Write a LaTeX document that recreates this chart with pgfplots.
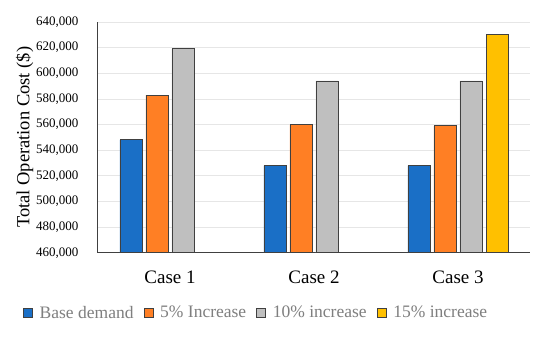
\documentclass[border=0pt]{standalone}
\usepackage{pgfplots}
\pgfplotsset{compat=1.18}
\usepackage{fontspec}
\setmainfont{Liberation Serif}
\definecolor{cblue}{HTML}{1A6FC6}
\definecolor{corange}{HTML}{FF7F24}
\definecolor{cgray}{HTML}{BFBFBF}
\definecolor{cyellow}{HTML}{FFC000}
\definecolor{edge}{HTML}{404040}
\definecolor{gridc}{HTML}{E6E6E6}
\definecolor{legtext}{HTML}{7F7F7F}
\begin{document}
\begin{tikzpicture}[x=1pt,y=1pt]
\path[use as bounding box] (0,0) rectangle (550,341);
\begin{axis}[
  at={(98pt,88.3pt)}, anchor=south west,
  scale only axis, width=432pt, height=230.7pt,
  xmin=-0.5, xmax=2.5, ymin=460000, ymax=640000,
  ytick distance=20000,
  xtick={0,1,2}, xticklabels={Case 1,Case 2,Case 3},
  major tick length=0pt,
  ybar=4pt, bar width=22pt,
  axis line style={draw=none},
  axis x line*=bottom, axis y line*=left,
  ymajorgrids, grid style={gridc, line width=0.8pt},
  scaled y ticks=false,
  /pgf/number format/assume math mode=true,
  yticklabel={\pgfmathprintnumber[fixed,1000 sep={,}]{\tick}},
  yticklabel style={font=\fontsize{13}{15}\selectfont, xshift=-16pt},
  xticklabel style={font=\fontsize{19}{22}\selectfont, yshift=-15pt},
  ylabel={Total Operation Cost (\$)},
  ylabel style={font=\fontsize{18.5}{21}\selectfont, yshift=-4pt},
  every axis plot/.append style={draw=edge, line width=0.9pt},
  legend columns=4,
  legend style={draw=none, at={(0.366,-0.26)}, anchor=center,
    font=\fontsize{17.5}{20}\selectfont, text=legtext,
    /tikz/every odd column/.append style={column sep=5pt},
    /tikz/every even column/.append style={column sep=8pt}},
  legend image code/.code={\draw[#1, line width=0.7pt] (0pt,-4.5pt) rectangle (9pt,4.5pt);},
  clip=false,
]
\draw[edge, line width=1pt] (rel axis cs:0,0) -- (rel axis cs:1,0);
\draw[edge, line width=1pt] (rel axis cs:0,0) -- (rel axis cs:0,1);
\addplot[fill=cblue] coordinates {(0,548000) (1,528000) (2,528000)};
\addplot[fill=corange] coordinates {(0,583000) (1,560000) (2,559000)};
\addplot[fill=cgray] coordinates {(0,619000) (1,594000) (2,594000)};
\addplot[fill=cyellow] coordinates {(2,630000)};
\legend{Base demand,5\% Increase,10\% increase,15\% increase}
\end{axis}
\end{tikzpicture}
\end{document}
